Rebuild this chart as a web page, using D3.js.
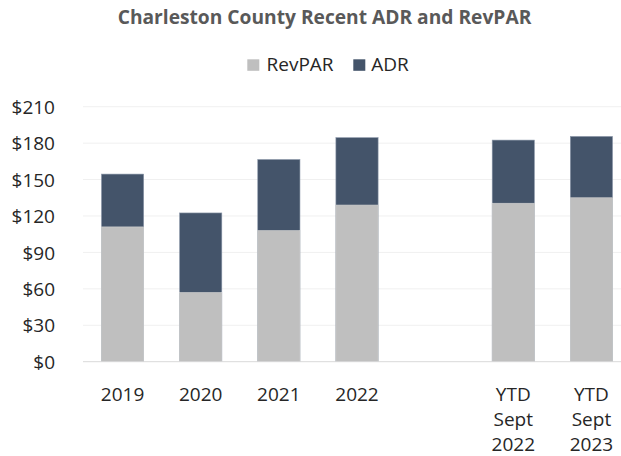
<!DOCTYPE html>
<html><head><meta charset="utf-8">
<script src="https://cdn.jsdelivr.net/npm/d3@7"></script>
<style>body{margin:0;background:#fff}svg{display:block}text{font-family:"Open Sans","Noto Sans",sans-serif}</style>
</head><body>
<svg id="c" width="621" height="456"></svg>
<script>
const categories = ["2019","2020","2021","2022","","YTD Sept 2022","YTD Sept 2023"];
const tickLabels = [["2019"],["2020"],["2021"],["2022"],[],["YTD","Sept","2022"],["YTD","Sept","2023"]];
const revpar = [111, 57, 108, 129, null, 130.5, 135];
const adr = [154.5, 122.5, 166.5, 184.5, null, 182.5, 185.5];
const yTicks = [0,30,60,90,120,150,180,210];
const seriesNames = ["RevPAR","ADR"];
const colors = {RevPAR:"#BFBFBF", ADR:"#44546A"};

const svg = d3.select("#c");
const x = d3.scaleBand().domain(d3.range(categories.length)).range([83.5,630.5]).paddingInner(0.46).paddingOuter(0.23);
const y = d3.scaleLinear().domain([0,210]).range([361.7,106.7]);

// title
svg.append("text").attr("x",324.5).attr("y",24).attr("text-anchor","middle")
  .attr("font-size",19.2).attr("font-weight","bold").attr("fill","#595959")
  .text("Charleston County Recent ADR and RevPAR");

// gridlines
svg.append("g").selectAll("line").data(yTicks.filter(t=>t>0)).join("line")
  .attr("x1",83).attr("x2",621).attr("y1",d=>y(d)).attr("y2",d=>y(d))
  .attr("stroke","#F0F0F0").attr("stroke-width",1);

// y labels
svg.append("g").selectAll("text").data(yTicks).join("text")
  .attr("x",55).attr("y",d=>y(d)).attr("dy","0.38em").attr("text-anchor","end")
  .attr("font-size",19).attr("fill","#262626").text(d=>"$"+d);

// bars: ADR behind, RevPAR in front
const idx = d3.range(categories.length).filter(i=>adr[i]!=null);
svg.append("g").selectAll("rect").data(idx).join("rect")
  .attr("x",i=>x(i)).attr("width",x.bandwidth())
  .attr("y",i=>y(adr[i])).attr("height",i=>y(0)-y(adr[i]))
  .attr("fill",colors.ADR).attr("stroke","#8a96a8").attr("stroke-width",0.6);
svg.append("g").selectAll("rect").data(idx).join("rect")
  .attr("x",i=>x(i)).attr("width",x.bandwidth())
  .attr("y",i=>y(revpar[i])).attr("height",i=>y(0)-y(revpar[i]))
  .attr("fill",colors.RevPAR).attr("stroke","#d2d2d2").attr("stroke-width",0.6);

// baseline
svg.append("line").attr("x1",83).attr("x2",621).attr("y1",y(0)).attr("y2",y(0))
  .attr("stroke","#D9D9D9").attr("stroke-width",1);

// x labels
const xl = svg.append("g").selectAll("text").data(d3.range(categories.length)).join("text")
  .attr("x",i=>x(i)+x.bandwidth()/2).attr("y",401).attr("text-anchor","middle")
  .attr("font-size",19).attr("fill","#262626");
xl.each(function(i){
  const t=d3.select(this);
  tickLabels[i].forEach((s,k)=>t.append("tspan").attr("x",x(i)+x.bandwidth()/2).attr("dy",k?25:0).text(s));
});

// legend
const leg = [{n:"RevPAR",sx:247.3,tx:266.5},{n:"ADR",sx:353.3,tx:371.3}];
const lg = svg.append("g");
lg.selectAll("rect").data(leg).join("rect").attr("x",d=>d.sx).attr("y",59.3).attr("width",12).attr("height",11.5).attr("fill",d=>colors[d.n]);
lg.selectAll("text").data(leg).join("text").attr("x",d=>d.tx).attr("y",71).attr("font-size",19).attr("fill","#262626").text(d=>d.n);
</script>
</body></html>
